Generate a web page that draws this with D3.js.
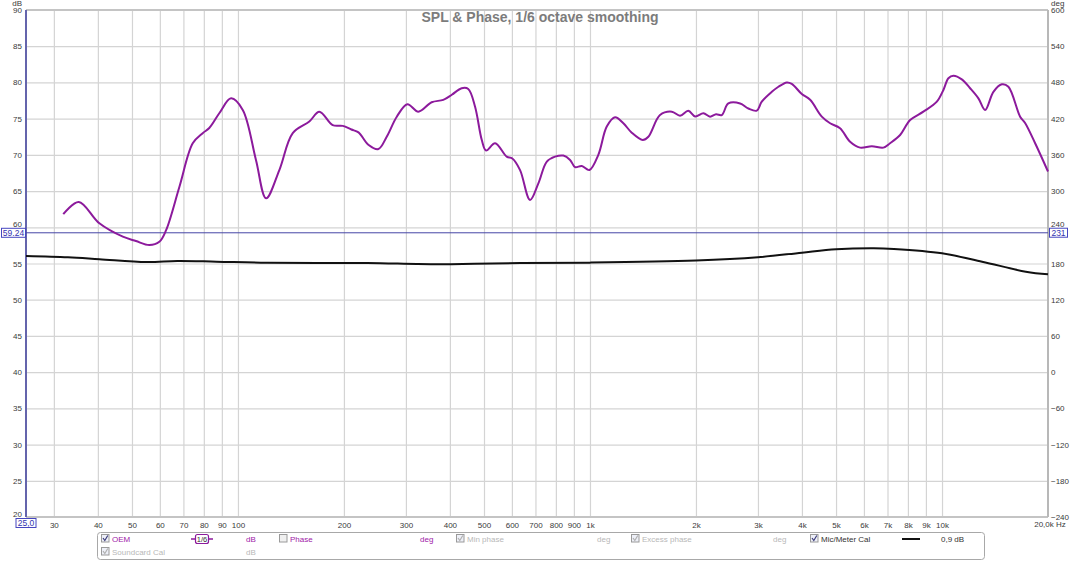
<!DOCTYPE html>
<html><head><meta charset="utf-8">
<script src="https://cdn.jsdelivr.net/npm/d3@7"></script>
<style>
body{margin:0;background:#fff;}
svg{display:block;font-family:"Liberation Sans",Arial,sans-serif;}
</style>
</head><body>
<svg id="chart" width="1080" height="561"></svg>
<script>
// ---------- DATA ----------
const chartTitle = "SPL & Phase, 1/6 octave smoothing";

const oemFreq = [31.9,35.3,40.4,47.1,51.3,56.0,59.8,62.5,68.2,74.4,79.4,82.9,88.5,95.6,103.2,112.5,120.2,131.1,143.1,159.5,170.3,185.9,198.5,210,220,234.6,250.5,264.6,282.6,302.8,325.4,355,383,405,432,451,471.6,492.8,506.8,537.6,580,601.8,633,675.8,713.5,754,795.9,840,878,907,947.6,996,1056,1116,1178,1244,1314,1412,1465,1581,1708,1802,1902,1990,2100,2193,2281,2368,2472,2670,2818,2977,3076,3285,3430,3623,3743,3996,4220,4555,4810,5133,5481,5851,6317,6815,7120,7602,8117,8851,9666,10090,10426,10773,11381,12016,12688,13255,13995,14787,15437,16667,17218,18387,20000];
const oemDb = [61.8,63.5,60.55,58.7,58.1,57.55,58.0,59.6,65.6,71.6,73.0,73.7,75.74,77.8,76.2,69.3,64.0,67.9,73.0,74.6,75.96,74.1,74.0,73.5,73.1,71.4,70.8,72.5,75.27,77.0,75.96,77.26,77.6,78.3,79.2,79.1,76.65,72.05,70.6,71.6,69.75,69.5,67.9,63.77,66.07,69.06,69.75,69.9,69.3,68.3,68.46,67.9,70.0,73.9,75.18,74.36,73.06,72.05,72.5,75.5,75.96,75.4,76.1,75.3,75.74,75.27,75.6,75.5,77.1,77.1,76.4,76.1,77.34,78.7,79.4,80.0,79.8,78.4,77.6,75.27,74.36,73.67,71.8,71.0,71.2,71.0,71.6,72.74,74.8,75.96,77.34,78.96,80.57,80.93,80.43,79.2,77.8,76.2,78.7,79.74,79.4,75.27,74.4,71.6,67.7];

const calFreq = [25,32.9,40.4,55,67.3,86.9,121,233,322,383,469,634,1000,2000,3000,4000,5000,6400,7300,10000,13000,17300,20000];
const calDb   = [56.04,55.86,55.6,55.2,55.35,55.25,55.1,55.07,54.93,54.9,54.97,55.07,55.12,55.4,55.86,56.5,56.96,57.1,57.0,56.4,55.25,53.87,53.5];

const xTickValues = [30,40,50,60,70,80,90,100,200,300,400,500,600,700,800,900,1000,2000,3000,4000,5000,6000,7000,8000,9000,10000];
const xTickLabels = ["30","40","50","60","70","80","90","100","200","300","400","500","600","700","800","900","1k","2k","3k","4k","5k","6k","7k","8k","9k","10k"];
const dbTicks = [20,25,30,35,40,45,50,55,60,65,70,75,80,85,90];
const phaseTicks = [-240,-180,-120,-60,0,60,120,180,240,300,360,420,480,540,600];
const markerDb = 59.24;
const markerDeg = 231;

const legendRow1 = [
  {type:"check", checked:true, label:"OEM", color:"#a020a8"},
  {type:"smooth", label:"1/6"},
  {type:"unit", label:"dB", color:"#a020a8"},
  {type:"check", checked:false, label:"Phase", color:"#a020a8"},
  {type:"unit", label:"deg", color:"#a020a8"},
  {type:"check", checked:true, label:"Min phase", color:"#b8b8b8"},
  {type:"unit", label:"deg", color:"#b8b8b8"},
  {type:"check", checked:true, label:"Excess phase", color:"#b8b8b8"},
  {type:"unit", label:"deg", color:"#b8b8b8"},
  {type:"check", checked:true, label:"Mic/Meter Cal", color:"#333"},
  {type:"line", label:""},
  {type:"unit", label:"0,9 dB", color:"#333"}
];
const legendRow1X = [101,191,246,279,420,456,597,631,773,810,902,941];
const legendRow2 = [
  {type:"check", checked:true, label:"Soundcard Cal", color:"#b8b8b8"},
  {type:"unit", label:"dB", color:"#b8b8b8"}
];
const legendRow2X = [101,246];

// ---------- LAYOUT ----------
const L = 26, R = 1048, T = 10, B = 517;
const svg = d3.select("#chart");
const x = d3.scaleLog().domain([25,20000]).range([L,R]);
const y = d3.scaleLinear().domain([20,90]).range([B,T]);
const yp = d3.scaleLinear().domain([-240,600]).range([B,T]);

const gridColor = "#d4d4d4";
const labelColor = "#3a3a3a";

// vertical grid + bottom labels
const gx = svg.append("g").attr("transform",`translate(0,${B})`)
  .call(d3.axisBottom(x).tickValues(xTickValues).tickFormat((d,i)=>xTickLabels[i]).tickSize(-(B-T)).tickPadding(5));
gx.select(".domain").remove();
gx.selectAll(".tick line").attr("stroke",gridColor).attr("stroke-width",1.2);
gx.selectAll(".tick text").attr("fill",labelColor).attr("font-size",8).attr("font-family","Liberation Sans, Arial, sans-serif");

// horizontal grid + left labels
const gy = svg.append("g").attr("transform",`translate(${L},0)`)
  .call(d3.axisLeft(y).tickValues(dbTicks).tickSize(-(R-L)).tickPadding(4));
gy.select(".domain").remove();
gy.selectAll(".tick line").attr("stroke",gridColor).attr("stroke-width",1.2);
gy.selectAll(".tick text").attr("fill",labelColor).attr("font-size",8).attr("font-family","Liberation Sans, Arial, sans-serif");
// labels partly hidden by marker boxes in the reference: nudge up so they peek above
gy.selectAll(".tick text").filter(d=>d===20||d===60).attr("transform","translate(0,-3.5)");

// right phase labels
const gr = svg.append("g").attr("transform",`translate(${R},0)`)
  .call(d3.axisRight(yp).tickValues(phaseTicks).tickSize(0).tickPadding(3));
gr.select(".domain").remove();
gr.selectAll(".tick text").attr("fill",labelColor).attr("font-size",8).attr("font-family","Liberation Sans, Arial, sans-serif");
gr.selectAll(".tick text").filter(d=>d===240).attr("transform","translate(0,-3.5)");

// unit labels
svg.append("text").attr("x",22).attr("y",6).attr("text-anchor","end").attr("font-size",8).attr("fill",labelColor).text("dB");
svg.append("text").attr("x",1051).attr("y",6).attr("font-size",8).attr("fill",labelColor).text("deg");
svg.append("text").attr("x",1056).attr("y",B+10).attr("font-size",8).attr("fill",labelColor).text("Hz");
svg.append("text").attr("x",R-4).attr("y",B+10).attr("text-anchor","middle").attr("font-size",8).attr("fill",labelColor).text("20,0k");

// frame
svg.append("line").attr("x1",L).attr("x2",R).attr("y1",T).attr("y2",T).attr("stroke","#c4c4c4").attr("stroke-width",2);
svg.append("line").attr("x1",L).attr("x2",R).attr("y1",B).attr("y2",B).attr("stroke","#c4c4c4").attr("stroke-width",2);
svg.append("line").attr("x1",R).attr("x2",R).attr("y1",T).attr("y2",B).attr("stroke","#b8b8b8").attr("stroke-width",2);
svg.append("line").attr("x1",L).attr("x2",L).attr("y1",T).attr("y2",B).attr("stroke","#6464ac").attr("stroke-width",2);

// title
svg.append("text").attr("x",540).attr("y",22).attr("text-anchor","middle")
  .attr("font-size",14).attr("font-weight","bold").attr("fill","#7c7c7c").text(chartTitle);

// marker line
svg.append("line").attr("x1",L).attr("x2",R).attr("y1",y(markerDb)).attr("y2",y(markerDb))
  .attr("stroke","#4646a6").attr("stroke-width",1);

// curves
const line = d3.line().x(d=>x(d[0])).y(d=>y(d[1])).curve(d3.curveCatmullRom.alpha(0.5));
svg.append("path").datum(calFreq.map((f,i)=>[f,calDb[i]]))
  .attr("d",line).attr("fill","none").attr("stroke","#111").attr("stroke-width",2);
svg.append("path").datum(oemFreq.map((f,i)=>[f,oemDb[i]]))
  .attr("d",line).attr("fill","none").attr("stroke","#8c1a9c").attr("stroke-width",2);

// marker boxes
function box(yc, w, txt, anchorX){
  const g = svg.append("g");
  g.append("rect").attr("x",anchorX).attr("y",yc-4.5).attr("width",w).attr("height",9)
    .attr("fill","#fff").attr("stroke","#4646c0").attr("stroke-width",1);
  g.append("text").attr("x",anchorX+w/2).attr("y",yc+3).attr("text-anchor","middle")
    .attr("font-size",8.5).attr("fill","#3434b0").text(txt);
}
box(y(markerDb),24,markerDb.toFixed(2),1.5);
box(yp(markerDeg),18,String(markerDeg),1049.5);
box(523,20,"25,0",16);

// legend
svg.append("rect").attr("x",97.5).attr("y",532.5).attr("width",887).attr("height",27).attr("rx",3)
  .attr("fill","#fff").attr("stroke","#a8a8a8").attr("stroke-width",1);

function legendItem(item, lx, ly){
  const g = svg.append("g");
  if(item.type==="check"){
    g.append("rect").attr("x",lx+0.5).attr("y",ly-4.5).attr("width",7.5).attr("height",7.5)
      .attr("fill", item.checked ? "#eef0f8":"#f0f0f0").attr("stroke","#9a9a9a").attr("stroke-width",1);
    if(item.checked){
      g.append("path").attr("d",`M${lx+2},${ly-1} L${lx+3.8},${ly+1.5} L${lx+6.8},${ly-3.5}`)
        .attr("fill","none").attr("stroke", item.color==="#b8b8b8" ? "#b0b0b0" : "#3a3a7a").attr("stroke-width",1.2);
    }
    g.append("text").attr("x",lx+11).attr("y",ly+2.5).attr("font-size",8).attr("fill",item.color).text(item.label);
  } else if(item.type==="smooth"){
    g.append("line").attr("x1",lx).attr("x2",lx+22).attr("y1",ly).attr("y2",ly).attr("stroke","#8c1a9c").attr("stroke-width",1.5);
    g.append("rect").attr("x",lx+4.5).attr("y",ly-4.5).attr("width",13).attr("height",9).attr("rx",2)
      .attr("fill","#fff").attr("stroke","#8c1a9c").attr("stroke-width",1.2);
    g.append("text").attr("x",lx+11).attr("y",ly+3).attr("text-anchor","middle").attr("font-size",7.5).attr("fill","#333").text(item.label);
  } else if(item.type==="line"){
    g.append("line").attr("x1",lx).attr("x2",lx+18).attr("y1",ly).attr("y2",ly).attr("stroke","#111").attr("stroke-width",2);
  } else {
    g.append("text").attr("x",lx).attr("y",ly+2.5).attr("font-size",8).attr("fill",item.color).text(item.label);
  }
}
legendRow1.forEach((it,i)=>legendItem(it,legendRow1X[i],539));
legendRow2.forEach((it,i)=>legendItem(it,legendRow2X[i],552));
</script>
</body></html>
